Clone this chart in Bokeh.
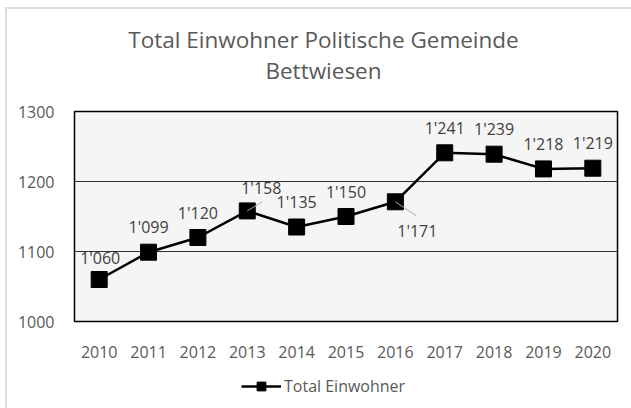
from bokeh.plotting import figure
from bokeh.layouts import column
from bokeh.models import ColumnDataSource, Range1d, FixedTicker, Legend, LegendItem, Label
from bokeh.core.properties import value
from bokeh.embed import file_html
from bokeh.resources import INLINE

# ---- data ----
years = ["2010", "2011", "2012", "2013", "2014", "2015", "2016", "2017", "2018", "2019", "2020"]
einwohner = [1060, 1099, 1120, 1158, 1135, 1150, 1171, 1241, 1239, 1218, 1219]
y_ticks = [1000, 1100, 1200, 1300]
title_lines = ["Total Einwohner Politische Gemeinde", "Bettwiesen"]
series_name = "Total Einwohner"

FONT = "Open Sans"
TXT = "#595959"
W = 631
FL, FR = 74, 14          # left / right border (frames of all rows are aligned)

# frame geometry (pixels)
FW, FH = W - FL - FR, 210
Y0, Y1 = 1000, 1300
px_x = FW / len(years)
px_y = FH / (Y1 - Y0)

idx = list(range(len(years)))
labels = [f"{v:,}".replace(",", "'") for v in einwohner]

# label offsets in screen px (default above the point)
xoff = [0.0] * len(years)
yoff = [-25.0] * len(years)
special = {"2010": (1, -22), "2013": (14, -23), "2016": (22, 29)}
for k, (dx, dy) in special.items():
    i = years.index(k)
    xoff[i], yoff[i] = dx, dy

src = ColumnDataSource(dict(x=idx, y=einwohner, label=labels, xo=xoff, yo=yoff))


def blank(h):
    f = figure(width=W, height=h, output_backend="svg", toolbar_location=None,
               x_range=Range1d(0, 1), y_range=Range1d(0, 1),
               x_axis_type=None, y_axis_type=None, min_border=0,
               min_border_left=FL, min_border_right=FR)
    f.outline_line_color = None
    f.background_fill_alpha = 0
    f.border_fill_alpha = 0
    f.xgrid.visible = False
    f.ygrid.visible = False
    return f


# ---- header with the two-line title ----
HEAD_H = 96
head = blank(HEAD_H)
title_cx = 323 - FL
for j, t in enumerate(title_lines):
    head.add_layout(Label(x=title_cx, y=HEAD_H - 46.7 + 8 - 31 * j, x_units="screen", y_units="screen",
                          text=t, text_font=FONT, text_font_size="22.5px", text_color=TXT,
                          text_align="center", text_baseline="alphabetic"))

# ---- main chart ----
p = figure(width=W, height=276, output_backend="svg", toolbar_location=None,
           x_range=Range1d(-0.5, len(years) - 0.5), y_range=Range1d(Y0, Y1),
           min_border_left=FL, min_border_right=FR, min_border_top=15, min_border_bottom=51)
p.background_fill_color = "#f5f5f5"
p.border_fill_alpha = 0
p.outline_line_color = "black"
p.outline_line_width = 1.5

p.xgrid.visible = False
p.ygrid.ticker = FixedTicker(ticks=y_ticks)
p.ygrid.grid_line_color = "#303030"
p.ygrid.grid_line_width = 1

for ax in (p.xaxis[0], p.yaxis[0]):
    ax.axis_line_color = None
    ax.major_tick_line_color = None
    ax.minor_tick_line_color = None
    ax.major_tick_out = 0
    ax.major_tick_in = 0
    ax.major_label_text_font = FONT
    ax.major_label_text_font_size = "16px"
    ax.major_label_text_color = TXT
p.xaxis.ticker = FixedTicker(ticks=idx)
p.xaxis.major_label_overrides = {i: y for i, y in zip(idx, years)}
p.xaxis.major_label_standoff = 24
p.yaxis.ticker = FixedTicker(ticks=y_ticks)
p.yaxis.major_label_standoff = 20

p.line("x", "y", source=src, line_color="black", line_width=2.5)
p.scatter("x", "y", source=src, marker="square", size=16, fill_color="black", line_color="black")

# leader lines for displaced labels
lx0, ly0, lx1, ly1 = [], [], [], []
lead = {"2013": (15, -9), "2016": (21, 14)}
for k, (dx, dy) in lead.items():
    i = years.index(k)
    lx0.append(idx[i]); ly0.append(einwohner[i])
    lx1.append(idx[i] + dx / px_x); ly1.append(einwohner[i] - dy / px_y)
p.segment(lx0, ly0, lx1, ly1, line_color="#a6a6a6", line_width=1)

p.text("x", "y", text="label", source=src, x_offset="xo", y_offset="yo",
       text_font=value(FONT), text_font_size="16px", text_color="#404040",
       text_align="center", text_baseline="middle")

# ---- footer with the legend (series renderers lie outside this row's view) ----
FOOT_H = 36
foot = blank(FOOT_H)
lg_line = foot.line("x", "y", source=src, line_color="black", line_width=2.5)
lg_mark = foot.scatter("x", "y", source=src, marker="square", size=16, fill_color="black", line_color="black")
legend = Legend(items=[LegendItem(label=series_name, renderers=[lg_line, lg_mark])],
                location=(241 - FL, 11), orientation="horizontal",
                border_line_alpha=0, background_fill_alpha=0,
                label_text_font=FONT, label_text_font_size="16px", label_text_color=TXT,
                glyph_width=40, glyph_height=22, label_height=20, label_standoff=3,
                margin=0, padding=0)
foot.add_layout(legend)

layout = column(head, p, foot, spacing=0)
layout.styles = {
    "overflow": "hidden",
    "background-color": "white",
    "background-image": "linear-gradient(#dcdcdc,#dcdcdc), linear-gradient(#dcdcdc,#dcdcdc)",
    "background-size": "2px 100%, 100% 2px",
    "background-position": "5px 7px, 5px 7px",
    "background-repeat": "no-repeat, no-repeat",
}

open("out.html", "w").write(file_html(layout, INLINE))
